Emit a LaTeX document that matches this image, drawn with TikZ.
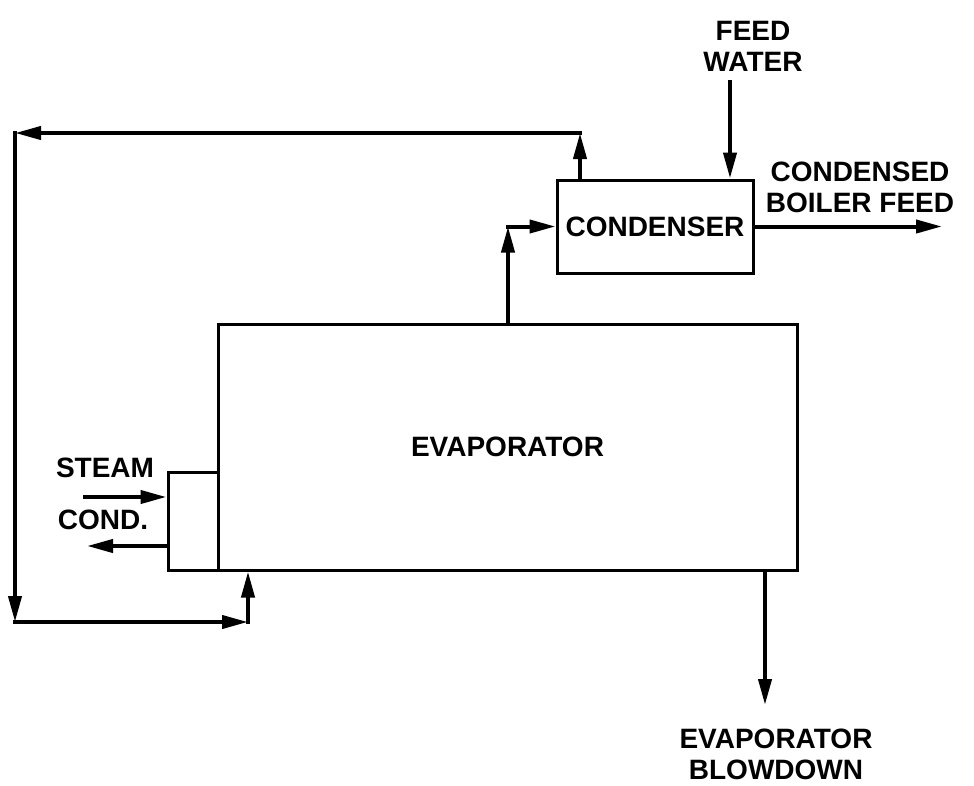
\documentclass[tikz,border=0pt]{standalone}
\usepackage{fontspec}
\setmainfont{Liberation Sans}
\usetikzlibrary{arrows.meta,calc}
\tikzset{
  >={Triangle[length=26pt,width=13pt]},
  unitbox/.style={draw,line width=3pt,inner sep=0pt,
    font=\fontsize{28}{31}\selectfont\bfseries},
  flow/.style={->,line width=4pt,line cap=rect},
  flowlbl/.style={font=\fontsize{28}{31}\selectfont\bfseries,
    align=center,inner sep=0pt},
}
\begin{document}
\begin{tikzpicture}[x=1pt,y=-1pt]
  \useasboundingbox (0,0) rectangle (974,785);
  % units
  \node[unitbox,minimum width=579pt,minimum height=246pt] (evap) at (507.5,447) {EVAPORATOR};
  \node[unitbox,minimum width=50pt,minimum height=98pt] (chest) at (193,521) {};
  \node[unitbox,minimum width=196pt,minimum height=93pt] (cond) at (655,226.5) {CONDENSER};
  % labels
  \node[flowlbl] (feed) at (753,46) {FEED\\WATER};
  \node[flowlbl] (boil) at (860,187) {CONDENSED\\BOILER FEED};
  \node[flowlbl] (steam) at (105,468) {STEAM};
  \node[flowlbl] (cnd) at (103,520) {COND.};
  \node[flowlbl] (blow) at (776,754) {EVAPORATOR\\BLOWDOWN};
  % free ends and corners
  \coordinate (fw) at (730,82);
  \coordinate (cbf) at (942,226.5);
  \coordinate (vap) at (508,226.5);
  \coordinate (rtop) at (580,133);
  \coordinate (rleft) at (15,133);
  \coordinate (rbot) at (15,622);
  \coordinate (rright) at (248,622);
  \coordinate (stin) at (85,497);
  \coordinate (cdout) at (87,546);
  \coordinate (bd) at (765,705);
  % streams
  \draw[flow] (fw) -- (fw |- cond.north);
  \draw[flow] (cond.east) -- (cbf);
  \draw[flow] (vap |- evap.north) -- (vap);
  \draw[flow] (vap) -- (cond.west);
  \draw[flow] (rtop |- cond.north) -- (rtop);
  \draw[flow] (rtop) -- (rleft);
  \draw[flow] (rleft) -- (rbot);
  \draw[flow] (rbot) -- (rright);
  \draw[flow] (rright) -- (rright |- evap.south);
  \draw[flow] (stin) -- (stin -| chest.west);
  \draw[flow] (cdout -| chest.west) -- (cdout);
  \draw[flow] (bd |- evap.south) -- (bd);
\end{tikzpicture}
\end{document}
